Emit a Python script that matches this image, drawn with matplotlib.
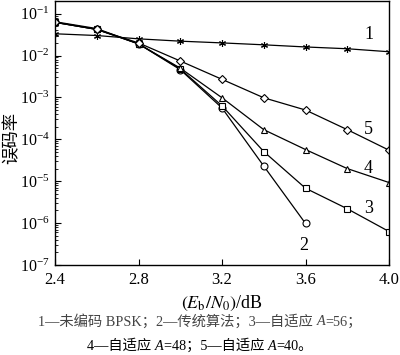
import matplotlib
matplotlib.use("Agg")
import matplotlib.pyplot as plt
from matplotlib.ticker import LogLocator, FuncFormatter
from matplotlib.offsetbox import TextArea, HPacker, AnchoredOffsetbox
import numpy as np

plt.rcParams['font.family'] = ['Liberation Serif', 'Noto Sans CJK SC']
plt.rcParams['mathtext.fontset'] = 'stix'

snr = [2.4, 2.6, 2.8, 3.0, 3.2, 3.4, 3.6, 3.8, 4.0]
ber_uncoded = [0.033, 0.030, 0.025, 0.022, 0.020, 0.018, 0.016, 0.0145, 0.0123]
snr_trad = [2.4, 2.6, 2.8, 3.0, 3.2, 3.4, 3.6]
ber_trad = [0.064, 0.044, 0.019, 0.0046, 5.6e-4, 2.3e-5, 9.8e-7]
ber_a56 = [0.062, 0.042, 0.019, 0.0048, 6.3e-4, 5.1e-5, 6.8e-6, 2.2e-6, 6.3e-7]
ber_a48 = [0.062, 0.042, 0.019, 0.0050, 9.8e-4, 1.7e-4, 5.7e-5, 2.0e-5, 9.3e-6]
ber_a40 = [0.062, 0.042, 0.020, 0.0074, 2.7e-3, 9.8e-4, 5.0e-4, 1.7e-4, 5.5e-5]

fig = plt.figure(figsize=(4.0, 3.55), dpi=100)
ax = fig.add_axes([55 / 400, 1 - 265 / 355, 334 / 400, 264 / 355])

kw = dict(color='black', lw=0.9, mfc='white', mec='black', ms=5, mew=0.8)
ax.plot(snr, ber_uncoded, marker=(6, 2, 0), **kw)
ax.plot(snr_trad, ber_trad, marker='o', **kw)
ax.plot(snr, ber_a56, marker='s', **dict(kw, ms=4.5))
ax.plot(snr, ber_a48, marker='^', **kw)
ax.plot(snr, ber_a40, marker='D', **dict(kw, ms=4))

ax.set_yscale('log')
ax.set_xlim(2.4, 4.0)
ax.set_ylim(1e-7, 2e-1)
ax.set_xticks([2.4, 2.8, 3.2, 3.6, 4.0])
ax.set_xticklabels(['2.4', '2.8', '3.2', '3.6', '4.0'])
ax.yaxis.set_major_locator(LogLocator(base=10, numticks=10))
ax.yaxis.set_minor_locator(LogLocator(base=10, subs=range(2, 10), numticks=20))
ax.yaxis.set_major_formatter(FuncFormatter(
    lambda v, p: r'$\mathregular{10^{-%d}}$' % round(-np.log10(v))))
ax.tick_params(which='both', direction='in')
ax.tick_params(axis='x', labelsize=12, pad=5)
ax.tick_params(axis='y', labelsize=11.5, pad=4)
ax.tick_params(which='major', length=4)
ax.tick_params(which='minor', length=2)
for s in ax.spines.values():
    s.set_linewidth(1.0)

ax.set_ylabel('误码率', fontsize=12.5, family=['Noto Sans CJK SC'])
ax.yaxis.set_label_coords(-34 / 334, 0.48)
ax.set_xlabel(r'$(E_{\mathrm{b}}/N_0)$/dB', fontsize=13, labelpad=4)

for txt, x, y in [('1', 3.88, 0.032), ('5', 3.88, 1.7e-4), ('4', 3.88, 2.0e-5),
                  ('3', 3.88, 2.2e-6), ('2', 3.57, 2.9e-7)]:
    ax.text(x, y, txt, fontsize=13, ha='left', va='center')


def caption(parts, y, color):
    boxes = []
    for s, it in parts:
        boxes.append(TextArea(s, textprops=dict(fontsize=10.3, color=color,
                                                style='italic' if it else 'normal')))
    pack = HPacker(children=boxes, align='baseline', pad=0, sep=0)
    ab = AnchoredOffsetbox(loc='center', child=pack, frameon=False,
                           bbox_to_anchor=(0.5, y), bbox_transform=fig.transFigure,
                           borderpad=0, pad=0)
    fig.add_artist(ab)


caption([('1—未编码 BPSK；2—传统算法；3—自适应 ', False), ('A', True), ('=56；', False)],
        1 - 321 / 355, '#444444')
caption([('4—自适应 ', False), ('A', True), ('=48；5—自适应 ', False), ('A', True), ('=40。', False)],
        1 - 346 / 355, 'black')

fig.savefig('out.png', dpi=100)
